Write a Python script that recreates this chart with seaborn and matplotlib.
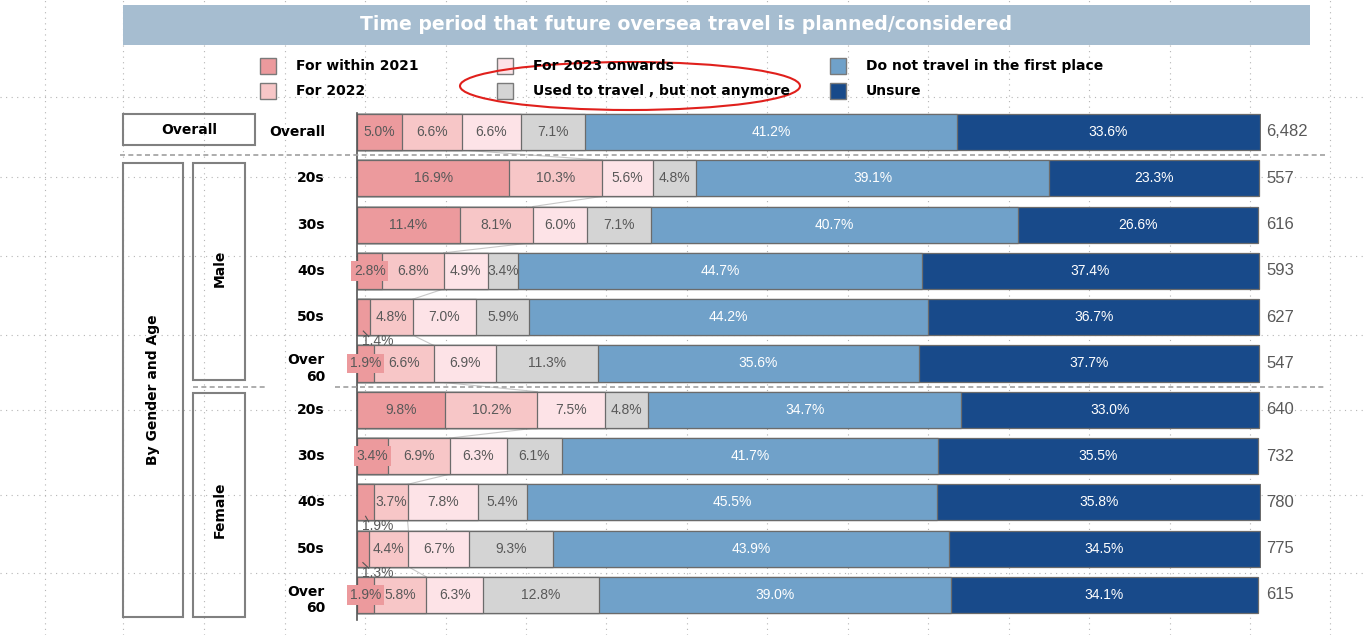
import numpy as np
import pandas as pd
import matplotlib.pyplot as plt
import seaborn as sns
from matplotlib.patches import Rectangle, Ellipse
from matplotlib.lines import Line2D

# --- Data ---
row_ids = ["Overall", "M20s", "M30s", "M40s", "M50s", "M60", "F20s", "F30s", "F40s", "F50s", "F60"]
row_labels = ["Overall", "20s", "30s", "40s", "50s", "Over\n60", "20s", "30s", "40s", "50s", "Over\n60"]
series = ["For within 2021", "For 2022", "For 2023 onwards",
          "Used to travel , but not anymore", "Do not travel in the first place", "Unsure"]

within_2021 = [5.0, 16.9, 11.4, 2.8, 1.4, 1.9, 9.8, 3.4, 1.9, 1.3, 1.9]
for_2022 = [6.6, 10.3, 8.1, 6.8, 4.8, 6.6, 10.2, 6.9, 3.7, 4.4, 5.8]
for_2023_on = [6.6, 5.6, 6.0, 4.9, 7.0, 6.9, 7.5, 6.3, 7.8, 6.7, 6.3]
used_to = [7.1, 4.8, 7.1, 3.4, 5.9, 11.3, 4.8, 6.1, 5.4, 9.3, 12.8]
do_not = [41.2, 39.1, 40.7, 44.7, 44.2, 35.6, 34.7, 41.7, 45.5, 43.9, 39.0]
unsure = [33.6, 23.3, 26.6, 37.4, 36.7, 37.7, 33.0, 35.5, 35.8, 34.5, 34.1]
n_resp = ["6,482", "557", "616", "593", "627", "547", "640", "732", "780", "775", "615"]

# rows where the tiny first label sits under the bar
label_below = ["M50s", "F40s", "F50s"]

colors = ["#ec9a9d", "#f7c6c7", "#fde3e7", "#d4d4d4", "#70a1c9", "#184a8a"]
edge = "#6b6b6b"
grey_txt = "#595959"

W, H = 1365, 635


def fx(x):
    return x / W


def fy(y):
    return 1 - y / H


df = pd.DataFrame({"row": row_ids, series[0]: within_2021, series[1]: for_2022,
                   series[2]: for_2023_on, series[3]: used_to, series[4]: do_not,
                   series[5]: unsure})
vals = df[series].to_numpy()
cum = vals.cumsum(axis=1)

fig = plt.figure(figsize=(W / 100, H / 100), dpi=100)
fig.patch.set_facecolor("white")

# background page-grid dots from the spreadsheet screenshot
for x in [45, 123, 204, 285, 365, 446, 526, 606, 687, 767, 848, 928, 1009, 1089, 1170, 1250, 1330]:
    fig.add_artist(Line2D([fx(x), fx(x)], [0, 1], color="#b5b5b5", lw=0.8,
                          ls=(0, (1, 4)), zorder=0))
for y in [97, 177, 256, 335, 410, 495, 573]:
    fig.add_artist(Line2D([0, 1], [fy(y), fy(y)], color="#b5b5b5", lw=0.8,
                          ls=(0, (1, 4)), zorder=0))

ax = fig.add_axes([fx(357), fy(620), fx(1261 - 357), (620 - 113) / H])
ax.set_facecolor("none")

# stacked bars: draw cumulative totals from longest to shortest
for j in range(len(series) - 1, -1, -1):
    sns.barplot(x=cum[:, j], y=row_ids, orient="h", color=colors[j], saturation=1,
                width=0.78, edgecolor=edge, linewidth=0.9, ax=ax)

ax.set_xlim(0, 100.2)
ax.set_ylim(10.54, -0.41)
ax.set_xticks([])
ax.set_yticks([])
ax.set_xlabel("")
ax.set_ylabel("")
for s in ["top", "right", "bottom"]:
    ax.spines[s].set_visible(False)
ax.spines["left"].set_color("#555555")
ax.spines["left"].set_linewidth(1.2)

# series lines linking the end of the "For 2022" segment
for i in range(len(row_ids) - 1):
    ax.plot([cum[i, 1], cum[i + 1, 1]], [i + 0.39, i + 1 - 0.39], color="#c8c8c8",
            lw=0.8, zorder=0.5)

# segment labels
for i, rid in enumerate(row_ids):
    for j in range(len(series)):
        v = vals[i, j]
        x = cum[i, j] - v / 2
        txt = f"{v:.1f}%"
        c = "white" if j >= 4 else grey_txt
        if j == 0 and rid in label_below:
            ax.text(0.6, i + 0.52, txt, ha="left", va="center", color=grey_txt,
                    fontsize=10, family="Liberation Sans", zorder=5)
            ax.plot([x, 1.3], [i + 0.3, i + 0.42], color="#555555", lw=0.8)
        elif j == 0 and v < 3.5:
            ax.text(x, i, txt, ha="center", va="center", color=grey_txt, fontsize=10,
                    family="Liberation Sans", zorder=5,
                    bbox=dict(boxstyle="square,pad=0.2", fc=colors[0], ec="none"))
        else:
            ax.text(x, i, txt, ha="center", va="center", color=c, fontsize=10,
                    family="Liberation Sans", zorder=5)
    ax.text(100.8, i, n_resp[i], ha="left", va="center", color=grey_txt, fontsize=12,
            family="Liberation Sans")

# title banner
fig.add_artist(Rectangle((fx(123), fy(45)), fx(1310 - 123), 40 / H, transform=fig.transFigure,
                         fc="#a6bdd0", ec="none", zorder=1))
fig.text(fx(686), fy(25), "Time period that future oversea travel is planned/considered",
         ha="center", va="center", color="white", fontsize=13.6, fontweight="bold", zorder=2)

# legend
leg_pos = [(260, 66), (260, 91), (497, 66), (497, 91), (830, 66), (830, 91)]
for (lx, ly), name, col in zip(leg_pos, series, colors):
    fig.add_artist(Rectangle((fx(lx), fy(ly + 8)), fx(16), 16 / H, transform=fig.transFigure,
                             fc=col, ec="#7a7a7a", lw=1))
    fig.text(fx(lx + 36), fy(ly), name, ha="left", va="center", fontsize=10,
             fontweight="bold", color="black")
fig.add_artist(Ellipse((fx(630), fy(86)), fx(340), 48 / H, transform=fig.transFigure,
                       fill=False, ec="#e0201c", lw=1.5))

# row labels
ycent = [132 + 46.3 * k for k in range(len(row_ids))]
for lab, yc in zip(row_labels, ycent):
    off = 5 if "\n" in lab else 0
    fig.text(fx(325), fy(yc + off), lab, ha="right", va="center", fontsize=10,
             fontweight="bold", multialignment="right", linespacing=1.2)

# group boxes
box_col = "#808080"
for (x0, y0, x1, y1) in [(123, 114, 255, 145), (123, 163, 183, 617),
                         (193, 163, 245, 380), (193, 393, 245, 617)]:
    fig.add_artist(Rectangle((fx(x0), fy(y1)), fx(x1 - x0), (y1 - y0) / H,
                             transform=fig.transFigure, fill=False, ec=box_col, lw=1.5))
fig.text(fx(189), fy(130), "Overall", ha="center", va="center", fontsize=10, fontweight="bold")
fig.text(fx(153), fy(390), "By Gender and Age", ha="center", va="center", fontsize=10,
         fontweight="bold", rotation=90)
fig.text(fx(220), fy(268), "Male", ha="center", va="center", fontsize=10,
         fontweight="bold", rotation=90)
fig.text(fx(220), fy(510), "Female", ha="center", va="center", fontsize=10,
         fontweight="bold", rotation=90)

# dashed separators
sep = dict(color="#a0a0a0", lw=1.2, ls=(0, (3, 2)))
fig.add_artist(Line2D([fx(120), fx(1325)], [fy(155), fy(155)], **sep))
fig.add_artist(Line2D([fx(193), fx(265)], [fy(387), fy(387)], **sep))
fig.add_artist(Line2D([fx(335), fx(1325)], [fy(387), fy(387)], **sep))

fig.savefig("out.png", dpi=100)
